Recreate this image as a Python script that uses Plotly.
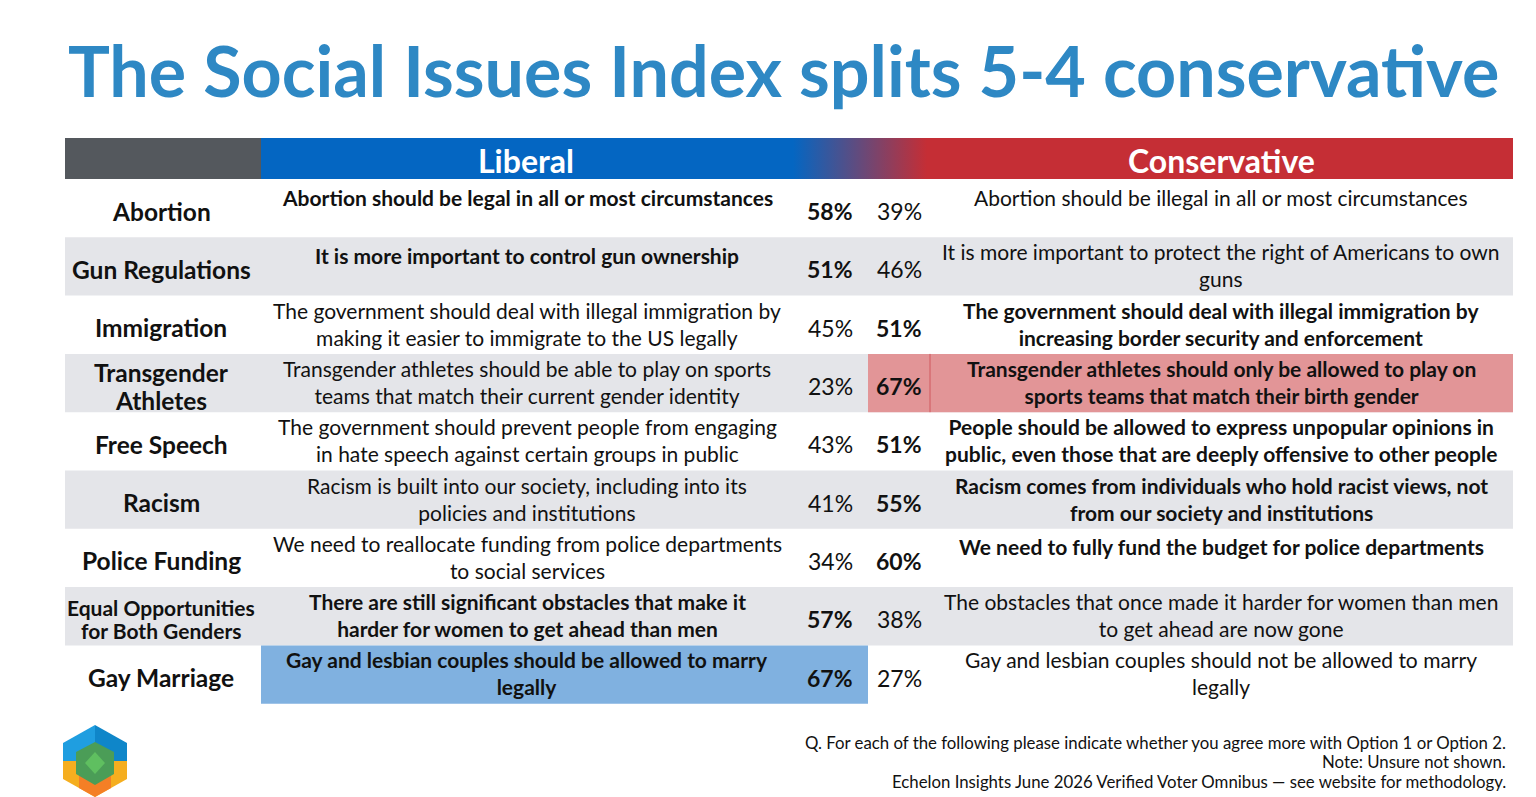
import plotly.graph_objects as go

# --- data -------------------------------------------------------------
issues = ["Abortion", "Gun Regulations", "Immigration", "Transgender<br>Athletes",
          "Free Speech", "Racism", "Police Funding",
          "Equal Opportunities<br>for Both Genders", "Gay Marriage"]

liberal_text = [
    "Abortion should be legal in all or most circumstances",
    "It is more important to control gun ownership",
    "The government should deal with illegal immigration by<br>making it easier to immigrate to the US legally",
    "Transgender athletes should be able to play on sports<br>teams that match their current gender identity",
    "The government should prevent people from engaging<br>in hate speech against certain groups in public",
    "Racism is built into our society, including into its<br>policies and institutions",
    "We need to reallocate funding from police departments<br>to social services",
    "There are still significant obstacles that make it<br>harder for women to get ahead than men",
    "Gay and lesbian couples should be allowed to marry<br>legally",
]

conservative_text = [
    "Abortion should be illegal in all or most circumstances",
    "It is more important to protect the right of Americans to own<br>guns",
    "The government should deal with illegal immigration by<br>increasing border security and enforcement",
    "Transgender athletes should only be allowed to play on<br>sports teams that match their birth gender",
    "People should be allowed to express unpopular opinions in<br>public, even those that are deeply offensive to other people",
    "Racism comes from individuals who hold racist views, not<br>from our society and institutions",
    "We need to fully fund the budget for police departments",
    "The obstacles that once made it harder for women than men<br>to get ahead are now gone",
    "Gay and lesbian couples should not be allowed to marry<br>legally",
]

liberal_pct = [58, 51, 45, 23, 43, 41, 34, 57, 67]
conservative_pct = [39, 46, 51, 67, 51, 55, 60, 38, 27]

footnotes = [
    "Q. For each of the following please indicate whether you agree more with Option 1 or Option 2.",
    "Note: Unsure not shown.",
    "Echelon Insights June 2026 Verified Voter Omnibus \u2014 see website for methodology.",
]

# --- layout constants (pixel-like x units, row-index y units) ----------
W, H = 1536, 797
ROW_H = 58.3
ROW0_TOP = 179
FONT = "Lato"

X_LEFT, X_LAB, X_LIBPCT, X_CON, X_RIGHT = 65, 261, 868, 930, 1513
X_GRAD0, X_GRAD1 = 793, 927

BLUE = "#0466c2"
RED = "#c52e35"
GRAY_HEAD = "#54585d"
ROW_GRAY = "#e4e5e9"
PINK = "#e29597"
LIGHT_BLUE = "#80b1e0"
TITLE_BLUE = "#2e88c4"


def ypx(px):
    # pixel row -> y axis units
    return (px - (ROW0_TOP + ROW_H / 2)) / ROW_H


n = len(issues)
lib_margin = [l - c for l, c in zip(liberal_pct, conservative_pct)]
lib_best = lib_margin.index(max(lib_margin))
con_best = lib_margin.index(min(lib_margin))

shapes = []
annotations = []

# header
shapes.append(dict(type="rect", xref="x", yref="y", x0=X_LEFT, x1=X_LAB,
                   y0=ypx(138), y1=-0.5, fillcolor=GRAY_HEAD, line_width=0, layer="below"))
shapes.append(dict(type="rect", xref="x", yref="y", x0=X_LAB, x1=X_GRAD0 + 1,
                   y0=ypx(138), y1=-0.5, fillcolor=BLUE, line_width=0, layer="below"))
shapes.append(dict(type="rect", xref="x", yref="y", x0=X_GRAD1 - 1, x1=X_RIGHT,
                   y0=ypx(138), y1=-0.5, fillcolor=RED, line_width=0, layer="below"))

fig = go.Figure()
fig.add_trace(go.Scatter(
    x=[X_GRAD0, X_GRAD1, X_GRAD1, X_GRAD0, X_GRAD0],
    y=[ypx(138), ypx(138), -0.5, -0.5, ypx(138)],
    mode="lines", line=dict(width=0), fill="toself",
    fillgradient=dict(type="horizontal", colorscale=[[0, BLUE], [1, RED]]),
    hoverinfo="skip", showlegend=False,
))

annotations.append(dict(x=(X_LAB + X_GRAD0) / 2 - 1, y=ypx(160), text="<b>Liberal</b>",
                        font=dict(family=FONT, size=32, color="white")))
annotations.append(dict(x=(X_CON + X_RIGHT) / 2, y=ypx(160), text="<b>Conservative</b>",
                        font=dict(family=FONT, size=32, color="white")))

# rows
for i in range(n):
    y0, y1 = i - 0.5, i + 0.5
    if i % 2 == 1:
        shapes.append(dict(type="rect", xref="x", yref="y", x0=X_LEFT, x1=X_RIGHT,
                           y0=y0, y1=y1, fillcolor=ROW_GRAY, line_width=0, layer="below"))
    if i == lib_best:
        shapes.append(dict(type="rect", xref="x", yref="y", x0=X_LAB, x1=X_LIBPCT,
                           y0=y0, y1=y1, fillcolor=LIGHT_BLUE, line_width=0, layer="below"))
    if i == con_best:
        shapes.append(dict(type="rect", xref="x", yref="y", x0=X_LIBPCT, x1=X_RIGHT,
                           y0=y0, y1=y1, fillcolor=PINK, line_width=0, layer="below"))
        shapes.append(dict(type="line", xref="x", yref="y", x0=X_CON, x1=X_CON,
                           y0=y0, y1=y1, line=dict(color="#d0585e", width=1)))

    lib_wins = liberal_pct[i] > conservative_pct[i]

    # issue label
    lab_lines = issues[i].split("<br>")
    small = len(issues[i]) > 30
    lab_size = 21 if small else 24.5
    step = (23 if small else 28) / ROW_H
    start = i + 3 / ROW_H - step * (len(lab_lines) - 1) / 2
    for k, line in enumerate(lab_lines):
        annotations.append(dict(x=(X_LEFT + X_LAB) / 2 - 2, y=start + k * step,
                                text="<b>%s</b>" % line,
                                font=dict(family=FONT, size=lab_size, color="#111")))

    # statements: one line sits at the top of the row, two lines are centred
    for txt, xc, bold in [(liberal_text[i], 527, lib_wins),
                          (conservative_text[i], 1221, not lib_wins)]:
        two = "<br>" in txt
        if bold:
            txt = "<b>" + txt.replace("<br>", "</b><br><b>") + "</b>"
        annotations.append(dict(x=xc, y=i - 0.5 + (28 if two else 18) / ROW_H,
                                text=txt,
                                font=dict(family=FONT, size=21, color="#111")))

    # percentages
    for val, xc, bold in [(liberal_pct[i], 830, lib_wins),
                          (conservative_pct[i], 899, not lib_wins)]:
        t = "%d%%" % val
        annotations.append(dict(x=xc, y=i + 3 / ROW_H,
                                text=("<b>%s</b>" % t) if bold else t,
                                font=dict(family=FONT, size=23, color="#111")))

# title
annotations.append(dict(x=783, y=ypx(70),
                        text="<b>The Social Issues Index splits 5-4 conservative</b>",
                        font=dict(family=FONT, size=70, weight=900, color=TITLE_BLUE)))

# footnotes
for k, line in enumerate(footnotes):
    annotations.append(dict(x=1508, y=ypx(742 + 19.5 * k), text=line, xanchor="right",
                            font=dict(family=FONT, size=16.8, color="#111")))

for a in annotations:
    a.update(xref="x", yref="y", showarrow=False)
    a.setdefault("xanchor", "center")
    a.setdefault("yanchor", "middle")

# logo (decoration)
def poly(pts, color):
    d = "M " + " L ".join("%g,%g" % (px, ypx(py)) for px, py in pts) + " Z"
    return dict(type="path", xref="x", yref="y", path=d, fillcolor=color, line_width=0)

shapes += [
    poly([(63, 743), (95, 725), (95, 761), (63, 761)], "#1f9ee0"),
    poly([(95, 725), (127, 743), (127, 761), (95, 761)], "#0f86c9"),
    poly([(63, 761), (127, 761), (127, 779), (95, 797), (63, 779)], "#f5ae1f"),
    poly([(79, 770), (95, 761), (111, 770), (111, 788), (95, 797), (79, 788)], "#f47f26"),
    poly([(95, 742), (114, 752), (114, 774), (95, 785), (76, 774), (76, 752)], "#4b9d57"),
    poly([(95, 752), (105, 763), (95, 774), (85, 763)], "#5fbf60"),
]

fig.update_layout(
    width=W, height=H,
    margin=dict(l=0, r=0, t=0, b=0),
    paper_bgcolor="white", plot_bgcolor="white",
    xaxis=dict(range=[0, W], visible=False, fixedrange=True),
    yaxis=dict(range=[ypx(H), ypx(0)], visible=False, fixedrange=True),
    shapes=shapes,
    annotations=annotations,
    showlegend=False,
)

fig.write_html("out.html", config={"displayModeBar": False},
               post_script="document.body.style.margin='0';document.body.style.overflow='hidden';")
